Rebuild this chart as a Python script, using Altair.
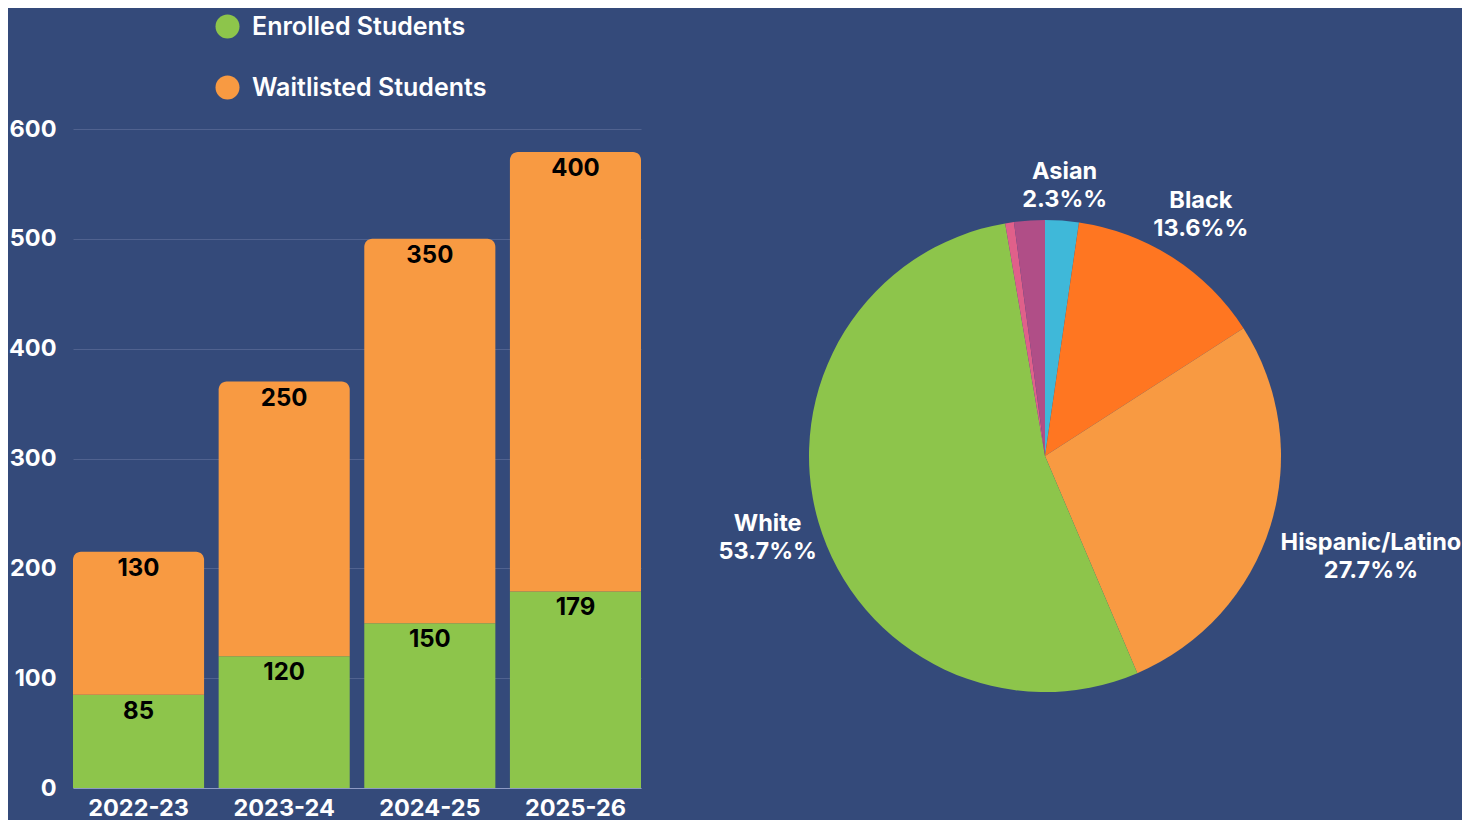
import altair as alt
import pandas as pd

# ---- data ----
years = ["2022-23", "2023-24", "2024-25", "2025-26"]
enrolled = [85, 120, 150, 179]
waitlisted = [130, 250, 350, 400]
series = ["Enrolled Students", "Waitlisted Students"]
series_colors = ["#8DC54B", "#F89A42"]
y_ticks = [0, 100, 200, 300, 400, 500, 600]

groups = ["Asian", "Black", "Hispanic/Latino", "White", "Other", "Two or More Races"]
shares = [2.3, 13.6, 27.7, 53.7, 0.6, 2.1]
pie_colors = ["#3FB8D9", "#FF7621", "#F89A42", "#8DC54B", "#E0608A", "#B04E87"]

BG = "#344A7A"
FONT = "Inter"
FS = 23.5

rows = []
for i, y in enumerate(years):
    rows.append({"year": y, "series": series[0], "sidx": 0, "value": enrolled[i]})
    rows.append({"year": y, "series": series[1], "sidx": 1, "value": waitlisted[i]})
bar_df = pd.DataFrame(rows)

pie_df = pd.DataFrame({"group": groups, "pct": shares, "idx": list(range(len(groups)))})

# ---- bar chart ----
bar_base = alt.Chart(bar_df).transform_stack(
    stack="value", groupby=["year"], as_=["start", "end"],
    sort=[alt.SortField("sidx", order="ascending")]
)

x_enc = alt.X("year:N", sort=years,
              scale=alt.Scale(paddingInner=0.1, paddingOuter=0),
              axis=alt.Axis(title=None, labelAngle=0, labelColor="white", labelFont=FONT,
                            labelFontSize=FS, labelFontWeight="bold", ticks=False,
                            domain=True, domainColor="#8E9AC4", domainWidth=1, labelPadding=8))
y_enc = alt.Y("end:Q", scale=alt.Scale(domain=[0, 600], nice=False),
              axis=alt.Axis(title=None, values=y_ticks, grid=True, gridColor="#50628F",
                            gridWidth=1, domain=False, ticks=False, labelColor="white",
                            labelFont=FONT, labelFontSize=FS, labelFontWeight="bold",
                            labelPadding=17))
color_enc = alt.Color("series:N", scale=alt.Scale(domain=series, range=series_colors),
                      legend=alt.Legend(title=None, orient="none", legendX=142, legendY=-115,
                                        symbolType="circle", symbolSize=576, symbolStrokeWidth=0,
                                        symbolOpacity=1, labelColor="white", labelFont=FONT,
                                        labelFontSize=25, labelFontWeight=600, labelOffset=12,
                                        labelLimit=0, rowPadding=35))

green = bar_base.transform_filter("datum.sidx == 0").mark_bar().encode(
    x=x_enc, y=y_enc, y2="start:Q", color=color_enc)
orange = bar_base.transform_filter("datum.sidx == 1").mark_bar(
    cornerRadiusTopLeft=8, cornerRadiusTopRight=8).encode(
    x=x_enc, y=y_enc, y2="start:Q", color=color_enc)
labels = bar_base.mark_text(baseline="middle", dy=17, color="black", font=FONT,
                            fontSize=24, fontWeight="bold").encode(
    x=alt.X("year:N", sort=years), y="end:Q", text="value:Q")

bar_chart = alt.layer(green, orange, labels).properties(width=568, height=659)

# ---- pie chart (manual stacking, angles in radians) ----
pie_base = alt.Chart(pie_df).transform_joinaggregate(
    total="sum(pct)"
).transform_window(
    cum="sum(pct)", sort=[alt.SortField("idx", order="ascending")],
    frame=[None, 0]
).transform_calculate(
    t0="2 * PI * (datum.cum - datum.pct) / datum.total",
    t1="2 * PI * datum.cum / datum.total",
    tm="PI * (2 * datum.cum - datum.pct) / datum.total",
)

arcs = pie_base.mark_arc(outerRadius=236).encode(
    theta=alt.Theta("t0:Q", scale=None),
    theta2="t1:Q",
    color=alt.Color("group:N", scale=alt.Scale(domain=groups, range=pie_colors), legend=None),
)
pie_text = pie_base.transform_filter("datum.idx < 4").transform_calculate(
    label="datum.group + '\\n' + format(datum.pct, '.1f') + '%%'",
    lr="datum.group == 'Asian' ? 272 : datum.group == 'Black' ? 288 : datum.group == 'Hispanic/Latino' ? 341 : 289",
).mark_text(lineBreak="\n", lineHeight=28, align="center", baseline="middle", dy=-13,
            color="white", font=FONT, fontSize=FS, fontWeight="bold").encode(
    theta=alt.Theta("tm:Q", scale=None),
    radius=alt.Radius("lr:Q", scale=None),
    text="label:N",
)

pie_chart = alt.layer(arcs, pie_text).properties(width=560, height=654)

chart = alt.hconcat(bar_chart, pie_chart, spacing=124, bounds="flush").resolve_scale(
    color="independent"
).properties(
    background=BG, padding={"left": 0, "top": 6, "right": 0, "bottom": 0}
).configure_view(stroke=None)

chart.save("out.html", embed_options={"renderer": "svg", "actions": False})
